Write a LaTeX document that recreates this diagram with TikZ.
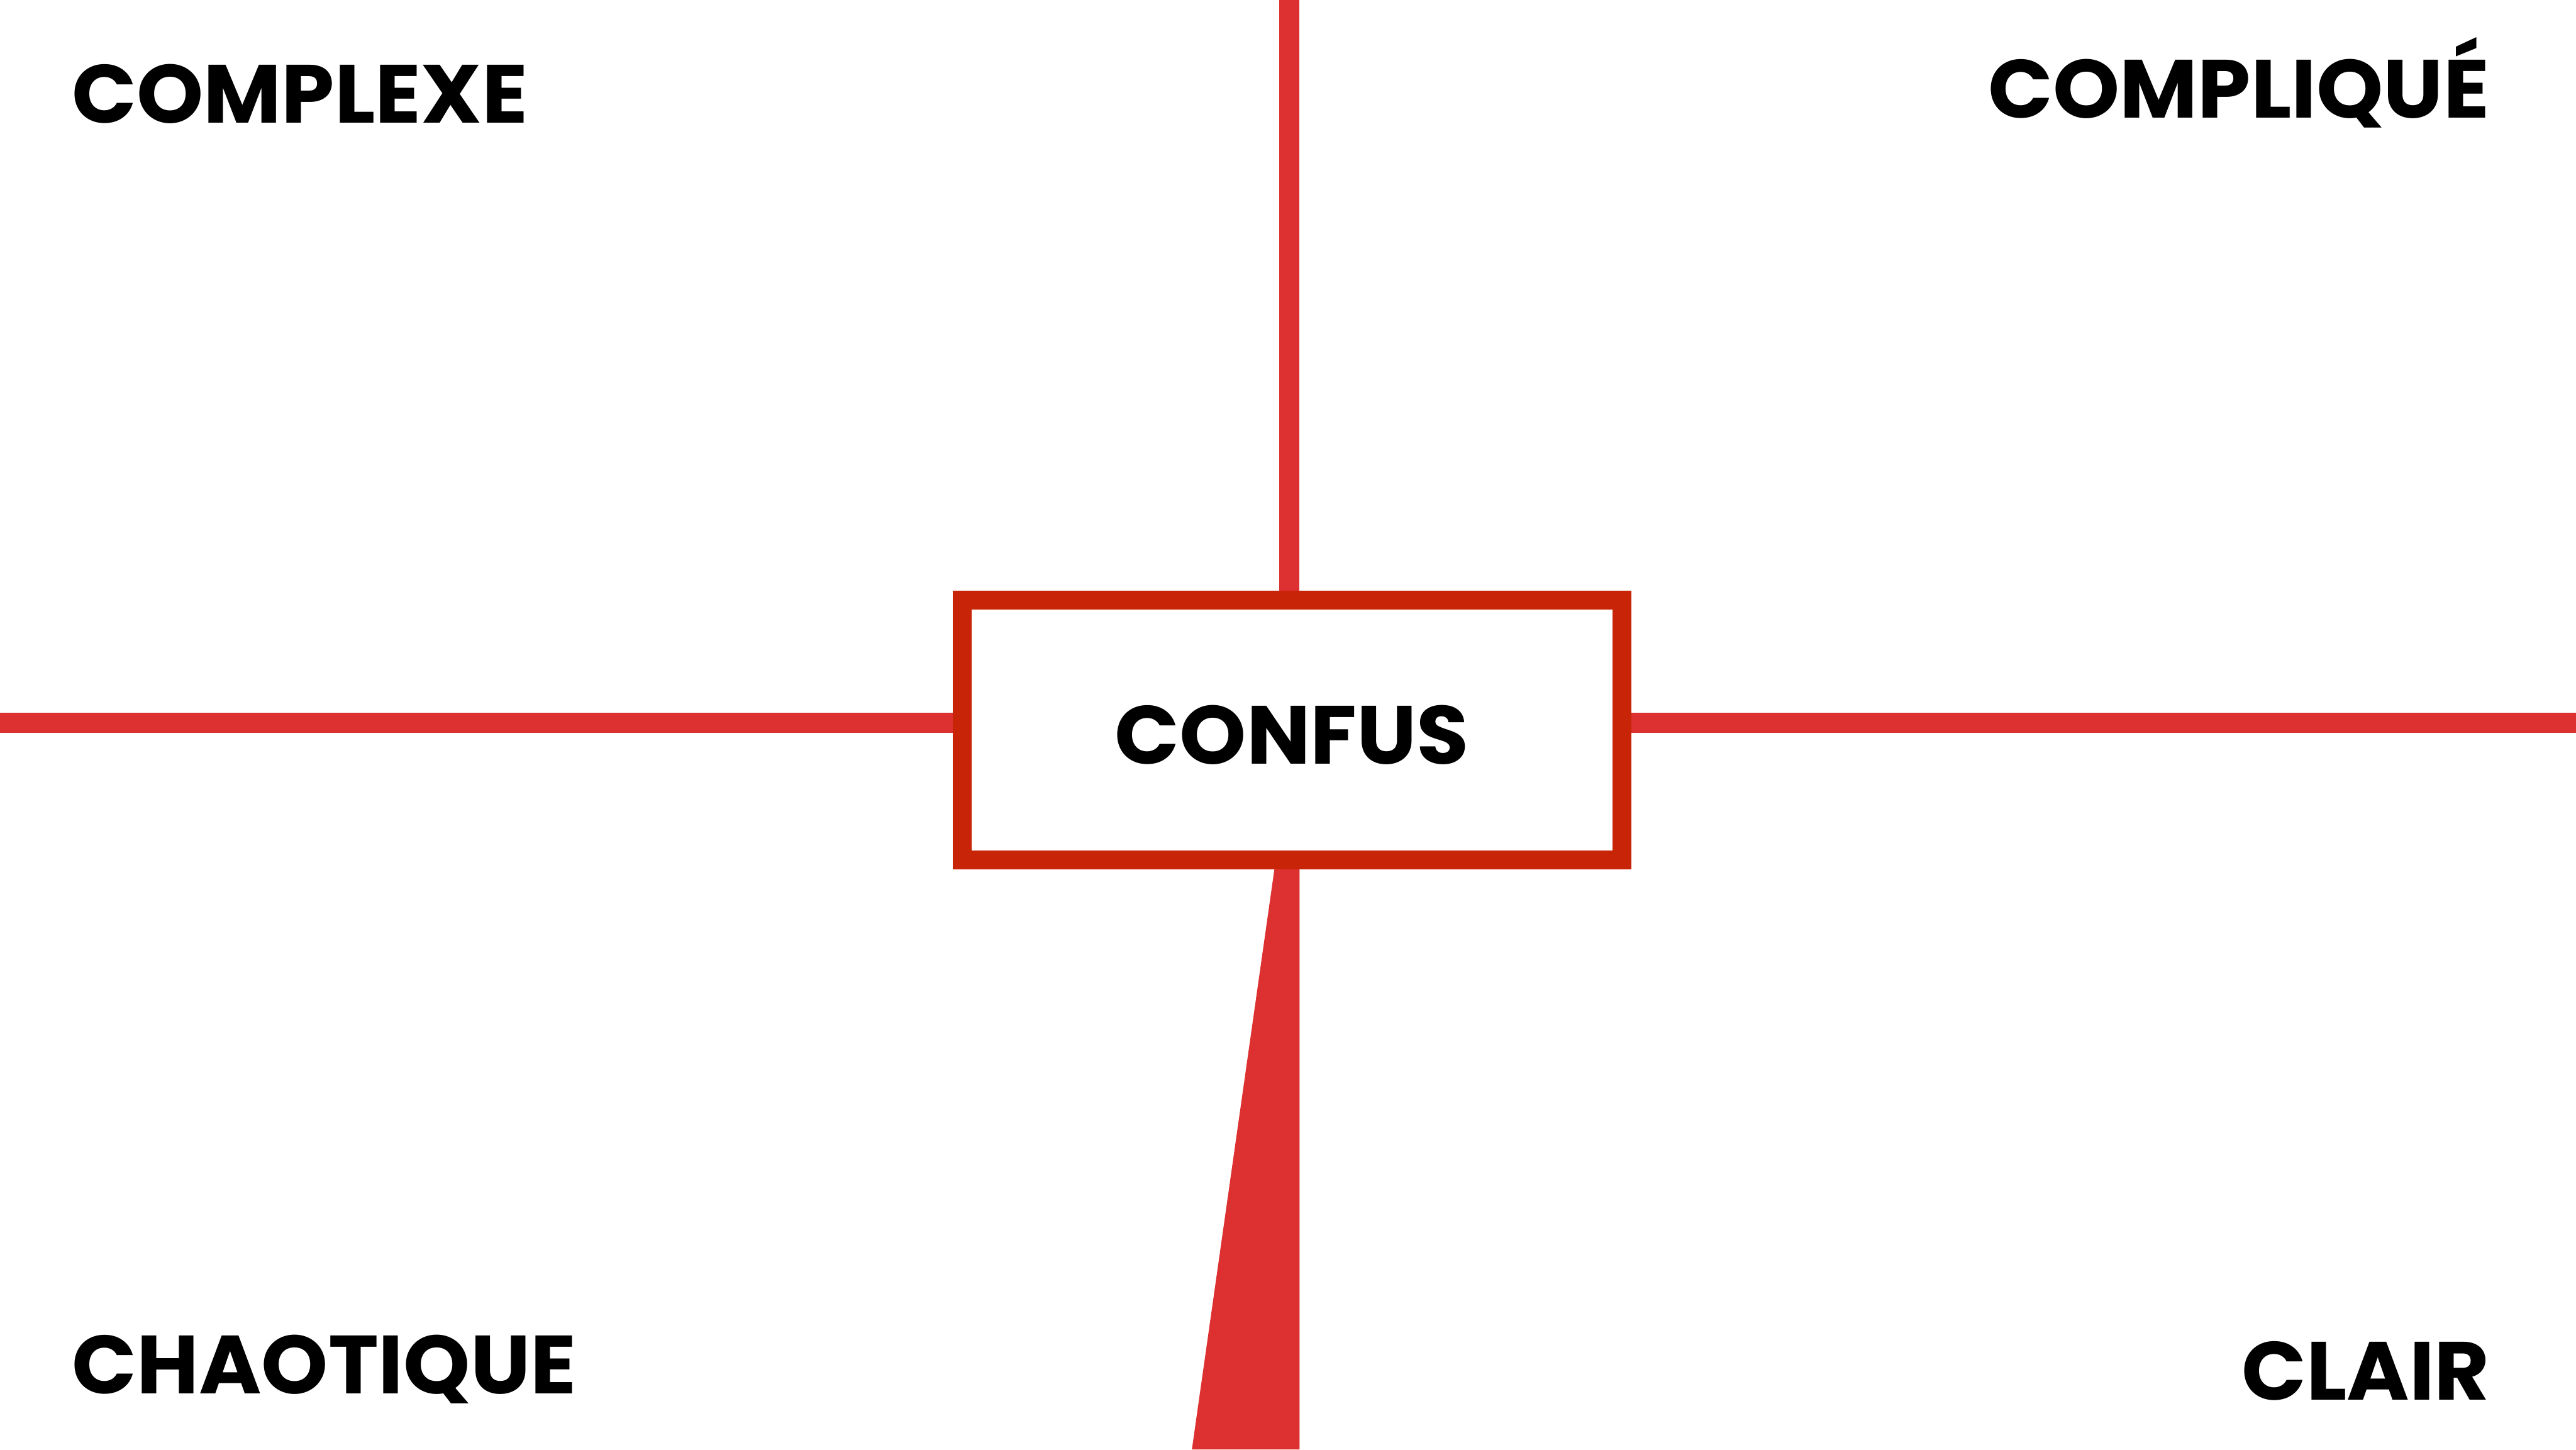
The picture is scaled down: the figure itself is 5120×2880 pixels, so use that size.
\documentclass[tikz,border=0pt]{standalone}
\usepackage{fontspec}
\setmainfont{Poppins}
\definecolor{linered}{HTML}{DD3030}
\definecolor{boxred}{HTML}{C82508}
\newcommand{\widetxt}[1]{\scalebox{1.03}[1]{#1}}
\begin{document}
\begin{tikzpicture}[x=1pt,y=-1pt,
  redline/.style={draw=linered,line width=40pt},
  quadlabel/.style={font=\fontsize{164}{164}\selectfont\bfseries,inner sep=0pt,text=black},
  confusbox/.style={draw=boxred,line width=37pt,fill=white,inner sep=0pt,minimum width=1311.5pt,minimum height=516pt}]
\useasboundingbox[fill=white] (0,0) rectangle (5120,2880);
\coordinate (vt) at (2562,0);
\coordinate (hl) at (0,1436);
\coordinate (hr) at (5120,1436);
\coordinate (wl) at (2369,2880);
\coordinate (wr) at (2583,2880);
\node[confusbox] (box) at (2568,1450.5) {};
\draw[redline] (vt) -- (vt |- box.north);
\draw[redline] (hl) -- (hl -| box.west);
\draw[redline] (hr) -- (hr -| box.east);
\fill[linered] (wr) -- (wr |- box.south) -- ([xshift=-35pt]box.south) -- (wl) -- cycle;
\node[confusbox] at (box) {};
\node[quadlabel,anchor=base] (confus) at (2568,1518) {\widetxt{CONFUS}};
\node[quadlabel,anchor=base west] (complexe) at (143,244) {\widetxt{COMPLEXE}};
\node[quadlabel,anchor=base east] (complique) at (4948,234) {\widetxt{COMPLIQUÉ}};
\node[quadlabel,anchor=base west] (chaotique) at (143,2769) {\widetxt{CHAOTIQUE}};
\node[quadlabel,anchor=base east] (clair) at (4949,2782) {\widetxt{CLAIR}};
\end{tikzpicture}
\end{document}
